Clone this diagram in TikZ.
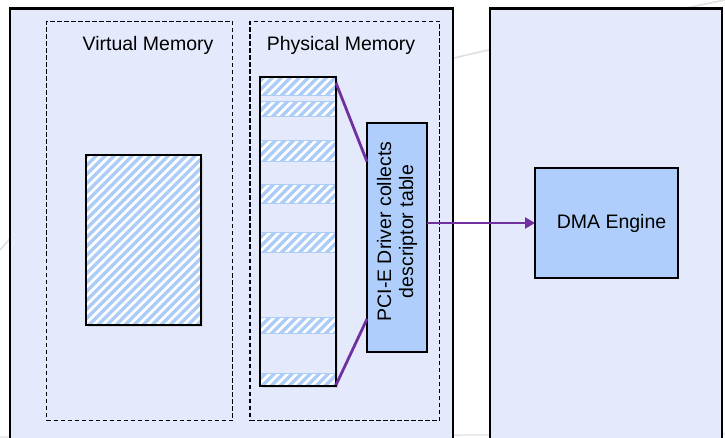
\documentclass[tikz,border=0pt]{standalone}
\usepackage{fontspec}
\setmainfont{Liberation Sans}
\usetikzlibrary{arrows.meta,shadows,calc}
\definecolor{bglav}{HTML}{E4EAFC}
\definecolor{boxblue}{HTML}{AFCEFB}
\definecolor{hatchblue}{HTML}{ACCDF7}
\definecolor{conpurple}{HTML}{7030A0}
\definecolor{faintgray}{HTML}{E0E0E0}
\newcommand\hatchfill[4]{%
  \begin{scope}
    \clip (#1,#2) rectangle (#3,#4);
    \fill[white] (#1,#2) rectangle (#3,#4);
    \foreach \k in {-200,-191,...,130} \draw[hatchline] ({#1+\k},{#4+5}) -- ++(230,-230);
  \end{scope}}
\begin{document}
\begin{tikzpicture}[x=1pt,y=-1pt,
  outerbox/.style={draw=black, line width=2.4pt, fill=bglav, anchor=north west, inner sep=0pt, outer sep=0pt},
  dashbox/.style={draw=black, line width=1.7pt, dash pattern=on 4.5pt off 2.5pt, anchor=north west, inner sep=0pt, outer sep=0pt},
  memblock/.style={draw=black, line width=2.2pt, anchor=north west, inner sep=0pt, outer sep=0pt,
     drop shadow={opacity=0.18, shadow xshift=2pt, shadow yshift=-2pt}},
  bluebox/.style={draw=black, line width=1.9pt, fill=boxblue, anchor=north west, inner sep=0pt, outer sep=0pt},
  hatchline/.style={draw=hatchblue, line width=3.4pt},
  hatchedge/.style={draw=hatchblue, line width=1pt},
  title/.style={font=\fontsize{19.5}{22}\selectfont, text=black, inner sep=0pt},
  conn/.style={draw=conpurple, line width=2.8pt},
  arr/.style={conn, -{Triangle[length=10pt,width=11pt]}}
]
\useasboundingbox (0,0) rectangle (725,438);
% faint background curves
\draw[faintgray, line width=1.6pt] (0,250) .. controls (100,128) and (420,62) .. (725,0);
\draw[faintgray, line width=1.3pt] (0,437) -- (725,434);
% outer boxes
\node[outerbox, minimum width=443pt, minimum height=445pt] (host) at (10,8.7) {};
\node[outerbox, minimum width=232pt, minimum height=445pt] (dev) at (490,8.7) {};
% dashed regions
\node[dashbox, minimum width=186pt, minimum height=399pt] (vmem) at (46.5,21.5) {};
\node[dashbox, minimum width=189.5pt, minimum height=399pt] (pmem) at (250,21.5) {};
\node[title] (vlabel) at (148,45) {Virtual Memory};
\node[title] (plabel) at (341,45) {Physical Memory};
% virtual memory block
\node[memblock, fill=white, minimum width=115pt, minimum height=170pt] (vblock) at (86,155) {};
\hatchfill{86}{155}{201}{325}
\draw[line width=2.2pt] (vblock.north west) rectangle (vblock.south east);
% physical memory column
\node[memblock, fill=bglav, minimum width=76pt, minimum height=309pt] (col) at (260,77) {};
\foreach \ya/\yb in {78/96, 102/117, 141/162, 185/204, 233/253, 317/333, 373/385} {
  \hatchfill{260}{\ya}{336}{\yb}
  \draw[hatchedge] (260,\ya) rectangle (336,\yb);
}
\draw[line width=2.2pt] (col.north west) rectangle (col.south east);
% PCI-E driver box
\node[bluebox, minimum width=60pt, minimum height=229pt] (pci) at (367,123) {};
\node[title, rotate=90, align=center] (pcitext) at ([yshift=6pt]pci.center) {PCI-E Driver collects\\descriptor table};
% DMA engine
\node[bluebox, minimum width=143pt, minimum height=110pt, font=\fontsize{19.5}{22}\selectfont, text=black] (dma) at (535,168) {\hspace*{10pt}DMA Engine};
% connectors
\draw[conn] ([yshift=-6pt]col.north east) -- ([yshift=75.8pt]pci.west);
\draw[conn] ([yshift=1pt]col.south east) -- ([yshift=-81.5pt]pci.west);
\draw[arr] (dma.west -| pci.east) -- (dma.west);
\end{tikzpicture}
\end{document}
